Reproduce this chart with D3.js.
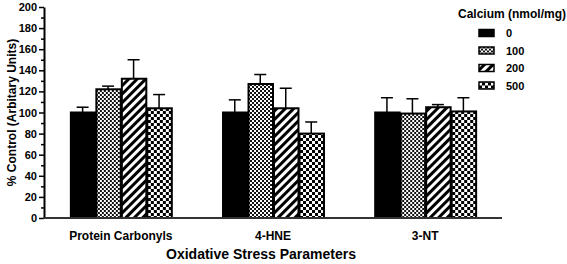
<!DOCTYPE html>
<html>
<head>
<meta charset="utf-8">
<script src="https://cdn.jsdelivr.net/npm/d3@7"></script>
<style>
  body { margin: 0; background: #fff; }
  svg { font-family: "Liberation Sans", Arial, sans-serif; font-weight: bold; }
</style>
</head>
<body>
<svg id="chart"></svg>
<script>
// data
const categories = ["Protein Carbonyls", "4-HNE", "3-NT"];
const doses = ["0", "100", "200", "500"];
const means = [
  [100, 122, 132, 104],   // Protein Carbonyls
  [100, 127, 104, 80],    // 4-HNE
  [100, 99, 105, 101]     // 3-NT
];
const errors = [
  [5, 3, 18, 13],
  [12, 9, 19, 11],
  [14, 14, 2.5, 13]
];
const yTicks = [0, 20, 40, 60, 80, 100, 120, 140, 160, 180, 200];
const yMinorTicks = [10, 30, 50, 70, 90, 110, 130, 150, 170, 190];

const width = 567, height = 264;
const svg = d3.select('#chart').attr('width', width).attr('height', height);

// patterns for the four doses
const defs = svg.append('defs');
// fine checker
let p = defs.append('pattern').attr('id', 'p100').attr('patternUnits', 'userSpaceOnUse')
  .attr('width', 4).attr('height', 4);
p.append('rect').attr('width', 4).attr('height', 4).attr('fill', '#fff');
p.append('rect').attr('width', 2).attr('height', 2).attr('fill', '#111');
p.append('rect').attr('x', 2).attr('y', 2).attr('width', 2).attr('height', 2).attr('fill', '#111');
// diagonal stripes
p = defs.append('pattern').attr('id', 'p200').attr('patternUnits', 'userSpaceOnUse')
  .attr('width', 6).attr('height', 6).attr('patternTransform', 'rotate(45)');
p.append('rect').attr('width', 6).attr('height', 6).attr('fill', '#fff');
p.append('rect').attr('width', 3).attr('height', 6).attr('fill', '#000');
// coarse checker
p = defs.append('pattern').attr('id', 'p500').attr('patternUnits', 'userSpaceOnUse')
  .attr('width', 6).attr('height', 6);
p.append('rect').attr('width', 6).attr('height', 6).attr('fill', '#fff');
p.append('rect').attr('width', 3).attr('height', 3).attr('fill', '#000');
p.append('rect').attr('x', 3).attr('y', 3).attr('width', 3).attr('height', 3).attr('fill', '#000');

const fills = ['#000', 'url(#p100)', 'url(#p200)', 'url(#p500)'];

const x0 = 44, x1 = 502, yBottom = 218, yTop = 7;

const xScale = d3.scaleBand()
  .domain(categories)
  .range([x0, x1])
  .paddingInner(0.33)
  .paddingOuter(0.17);

const xInner = d3.scaleBand()
  .domain(doses)
  .range([0, xScale.bandwidth()]);

const yScale = d3.scaleLinear()
  .domain([0, 200])
  .range([yBottom, yTop]);

// bars
const groups = svg.selectAll('.group')
  .data(categories)
  .join('g')
    .attr('class', 'group')
    .attr('transform', d => `translate(${xScale(d)},0)`);

groups.each(function(cat, i) {
  const g = d3.select(this);
  const rows = doses.map((dose, j) => ({dose, j, v: means[i][j], e: errors[i][j]}));

  // error bars (upper only)
  g.selectAll('.err')
    .data(rows)
    .join('line')
      .attr('class', 'err')
      .attr('x1', d => xInner(d.dose) + xInner.bandwidth() / 2)
      .attr('x2', d => xInner(d.dose) + xInner.bandwidth() / 2)
      .attr('y1', d => yScale(d.v))
      .attr('y2', d => yScale(d.v + d.e))
      .attr('stroke', '#000')
      .attr('stroke-width', 1.5);
  g.selectAll('.cap')
    .data(rows)
    .join('line')
      .attr('class', 'cap')
      .attr('x1', d => xInner(d.dose) + xInner.bandwidth() / 2 - 6)
      .attr('x2', d => xInner(d.dose) + xInner.bandwidth() / 2 + 6)
      .attr('y1', d => yScale(d.v + d.e))
      .attr('y2', d => yScale(d.v + d.e))
      .attr('stroke', '#000')
      .attr('stroke-width', 1.5);

  g.selectAll('.bar')
    .data(rows)
    .join('rect')
      .attr('class', 'bar')
      .attr('x', d => xInner(d.dose) + 1)
      .attr('width', xInner.bandwidth() - 1)
      .attr('y', d => yScale(d.v))
      .attr('height', d => yScale(0) - yScale(d.v))
      .attr('fill', d => fills[d.j])
      .attr('stroke', '#000')
      .attr('stroke-width', 2);
});

// y axis, major and minor ticks
const yAxisG = svg.append('g')
  .attr('transform', `translate(${x0},0)`)
  .call(d3.axisLeft(yScale).tickValues(yTicks).tickSize(5).tickPadding(2).tickSizeOuter(0));
svg.append('g')
  .attr('transform', `translate(${x0},0)`)
  .call(d3.axisLeft(yScale).tickValues(yMinorTicks).tickSize(3).tickFormat('').tickSizeOuter(0))
  .select('.domain').remove();
yAxisG.select('.domain').attr('stroke', '#000').attr('stroke-width', 2);
svg.selectAll('.tick line').attr('stroke', '#000').attr('stroke-width', 1.5);
yAxisG.selectAll('.tick text')
  .attr('fill', '#000')
  .style('font-family', '"Liberation Sans", Arial, sans-serif')
  .style('font-weight', 'bold')
  .style('font-size', '11px');

// x axis line
svg.append('line')
  .attr('x1', x0 - 1).attr('x2', x1)
  .attr('y1', yBottom).attr('y2', yBottom)
  .attr('stroke', '#333')
  .attr('stroke-width', 2);

// category labels
svg.selectAll('.cat-label')
  .data(categories)
  .join('text')
    .attr('class', 'cat-label')
    .attr('x', d => xScale(d) + xScale.bandwidth() / 2)
    .attr('y', 240)
    .attr('text-anchor', 'middle')
    .style('font-size', '12px')
    .text(d => d);

// axis titles
svg.append('text')
  .attr('x', 261)
  .attr('y', 259)
  .attr('text-anchor', 'middle')
  .style('font-size', '14px')
  .text('Oxidative Stress Parameters');

svg.append('text')
  .attr('transform', `translate(16,${(yTop + yBottom) / 2}) rotate(-90)`)
  .attr('text-anchor', 'middle')
  .style('font-size', '12px')
  .text('% Control (Arbitary Units)');

// legend
svg.append('text')
  .attr('x', 458)
  .attr('y', 18)
  .style('font-size', '12px')
  .text('Calcium (nmol/mg)');

const legend = svg.selectAll('.legend')
  .data(doses)
  .join('g')
    .attr('class', 'legend')
    .attr('transform', (d, i) => `translate(479,${33 + i * 17.5})`);
legend.append('rect')
  .attr('x', 0).attr('y', -3.5)
  .attr('width', 15).attr('height', 7)
  .attr('fill', (d, i) => fills[i])
  .attr('stroke', '#000')
  .attr('stroke-width', 1.5);
legend.append('text')
  .attr('x', 27)
  .attr('y', 4)
  .style('font-size', '11px')
  .text(d => d);
</script>
</body>
</html>
